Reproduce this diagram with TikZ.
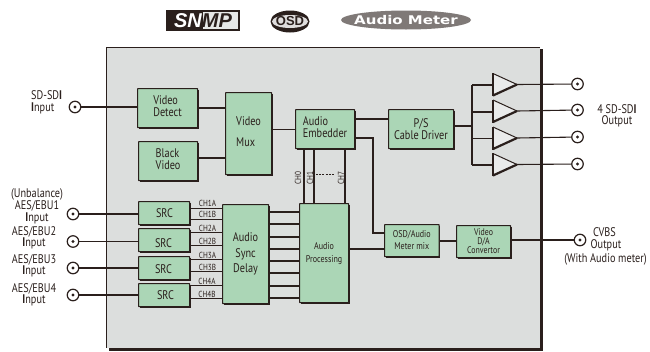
\documentclass[tikz,border=0pt]{standalone}
\usepackage{fontspec}
\setmainfont[FakeStretch=0.82]{PT Sans}
\newfontfamily\badgefont[FakeStretch=1.25]{DejaVu Sans}
\newfontfamily\snmpfont{Liberation Sans}
\definecolor{bx}{HTML}{ABD6B6}
\definecolor{pan}{HTML}{DCDEDD}
\definecolor{ink}{HTML}{2A1F1C}
\tikzset{
 px/.style={x=1pt,y=-1pt},
 wire/.style={draw=ink,line width=1.1pt},
 box/.style={draw=ink,line width=1.1pt,fill=bx,rounded corners=0.5pt,inner sep=0pt,align=center,text=ink,font=\fontsize{12.5}{12}\selectfont},
 jack/.style={circle,draw=ink,line width=1.2pt,fill=white,minimum size=11.5pt,inner sep=0pt},
 lab/.style={align=center,text=ink,inner sep=0pt,font=\fontsize{12.5}{11.5}\selectfont},
 ch/.style={text=ink,inner sep=0pt,font=\fontsize{8.8}{8.8}\selectfont},
}
\newcommand{\bxnode}[7][]{%
 \fill[ink] (#3+1.6,#4+1.6) rectangle (#5+1.6,#6+1.6);
 \node[box,#1,anchor=north west,minimum width=#5 pt-#3 pt,minimum height=#6 pt-#4 pt] (#2) at (#3,#4) {#7};
}
\newcommand{\jacknode}[3]{%
 \node[jack] (#1) at (#2,#3) {};
 \fill[ink] (#1.center) circle (1.7pt);
}
\newcommand{\ampnode}[3]{%
 \coordinate (#1in) at (#2,#3);
 \coordinate (#1out) at (#2+24,#3);
 \fill[pan!60!white] (#2,#3-11) -- (#2+24,#3) -- (#2,#3+11) -- cycle;
 \draw[ink,line width=1pt] (#2,#3-11) -- (#2+24,#3);
 \draw[ink,line width=2.2pt] (#2+24,#3) -- (#2,#3+11);
 \draw[ink,line width=1.1pt] (#2,#3+11.5) -- (#2,#3-11.5);
}
\begin{document}
\begin{tikzpicture}[px]
\useasboundingbox (0,0) rectangle (650,351);
\fill[white] (0,0) rectangle (650,351);
% panel
\fill[ink] (108.5,49) rectangle (542.8,350.8);
\fill[pan] (106.5,47) rectangle (540,348);
\draw[ink,line width=1pt] (540,47) -- (106.5,47) -- (106.5,348);
% badges
\fill[ink] (166,10) rectangle (240,31);
\fill[pan!70!white] (203,12) rectangle (238,29);
\node[inner sep=0pt,text=white] (snmp) at (203,20.5) {\snmpfont\fontsize{20}{20}\selectfont\bfseries\itshape SN\textcolor{ink}{MP}};
\fill[ink] (290,21.5) ellipse (19.5 and 11);
\fill[white!85!ink] (290,21.5) ellipse (18 and 6.5);
\node[inner sep=0pt,text=ink] (osd) at (290,21.5) {\snmpfont\fontsize{13}{13}\selectfont\bfseries OSD};
\fill[ink!60] (406,20) ellipse (65 and 9.5);
\node[inner sep=0pt,text=white] (meter) at (406,20) {\badgefont\fontsize{12}{12}\selectfont\bfseries Audio Meter};
% jacks
\jacknode{jin}{75}{107}
\jacknode{ja1}{73}{214}
\jacknode{ja2}{73}{241.5}
\jacknode{ja3}{73}{268}
\jacknode{ja4}{73}{295}
\jacknode{jo1}{577.5}{84}
\jacknode{jo2}{577.5}{110}
\jacknode{jo3}{577.5}{137}
\jacknode{jo4}{577.5}{164}
\jacknode{jcv}{580}{240}
% wires
\coordinate (j1) at (472,126);
\coordinate (a1) at (472,85);
\coordinate (a2) at (472,112);
\coordinate (a3) at (472,138.5);
\coordinate (a4) at (472,165);
\draw[wire] (jin) -- (137,107);
\draw[wire] (ja1) -- (138,214);
\draw[wire] (ja2) -- (138,241.5);
\draw[wire] (ja3) -- (138,268);
\draw[wire] (ja4) -- (138,295);
\draw[wire] (a1) -- (a4);
\draw[wire] (j1) -- (450,126);
\draw[wire] (a1) -- (493,85);
\draw[wire] (a2) -- (493,112);
\draw[wire] (a3) -- (493,138.5);
\draw[wire] (a4) -- (493,165);
\draw[wire] (198,108) -- (225,108);
\draw[wire] (198,158) -- (225,158);
\draw[wire] (272,129.5) -- (295,129.5);
\draw[wire] (354,119) -- (388,119);
\draw[wire] (354,138) -- (373,138) -- (373,233) -- (384,233);
\draw[wire] (304,148) -- (304,203);
\draw[wire] (314,148) -- (314,203);
\draw[wire] (345,148) -- (345,203);
\draw[ink,dashed,dash pattern=on 2pt off 1.2pt,line width=.8pt] (316,174) -- (335,174);
\foreach \y in {208,219,232,245,259,271,285,298}{\draw[wire,line width=1pt] (190,\y) -- (222,\y);}
\foreach \y in {212,224,237,249,261,273,286,298}{\draw[wire] (268,\y) -- (299,\y);}
\draw[wire] (348,249) -- (384,249);
\draw[wire] (438,241) -- (456,241);
\draw[wire] (510,240) -- (jcv);
% boxes
\bxnode{vdet}{137}{88}{197}{127}{\tabular{@{}l@{}}Video\\Detect\endtabular}
\bxnode{bvid}{138}{141}{197}{180}{\tabular{@{}l@{}}Black\\Video\endtabular}
\bxnode{vmux}{225}{92}{271}{174}{\tabular{@{}l@{}}Video\\[9pt]Mux\endtabular}
\bxnode{aemb}{295}{109}{354}{148}{\tabular{@{}l@{}}Audio\\Embedder\endtabular}
\bxnode{pscd}{388}{109}{453}{148}{P/S\\Cable Driver}
\bxnode{src1}{138}{201}{189}{224}{}
\bxnode{src2}{138}{228}{189}{251}{}
\bxnode{src3}{138}{256}{189}{279}{}
\bxnode{src4}{138}{283}{189}{306}{}
\node[box,draw=none,fill=none] (ts1) at (164.5,213) {SRC};
\node[box,draw=none,fill=none] (ts2) at (163.5,243) {SRC};
\node[box,draw=none,fill=none] (ts3) at (163.5,269) {SRC};
\node[box,draw=none,fill=none] (ts4) at (165.5,295) {SRC};
\bxnode{asd}{222}{204}{268}{303}{Audio\\[3.5pt]Sync\\[3.5pt]Delay}
\bxnode[font=\fontsize{9.8}{13}\selectfont]{apr}{299}{203}{348}{302}{Audio\\Processing}
\bxnode[font=\fontsize{9.8}{12}\selectfont]{osdm}{384}{224}{438.5}{256}{OSD/Audio\\Meter mix}
\bxnode[font=\fontsize{9.6}{9}\selectfont]{vda}{456}{225}{510}{257}{Video\\D/A\\Convertor}
% amps
\ampnode{am1}{493}{84.5}
\ampnode{am2}{493}{111}
\ampnode{am3}{493}{138}
\ampnode{am4}{493}{164.5}
\draw[wire] (am1out) -- (jo1);
\draw[wire] (am2out) -- (jo2);
\draw[wire] (am3out) -- (jo3);
\draw[wire] (am4out) -- (jo4);
% labels
\node[lab,align=left,anchor=west] (tin) at (31,102.5) {SD-SD\textbf{I}\\\textbf{I}nput};
\node[lab] (t1) at (37,206) {(Unbalance)\\[-0.5pt]AES/EBU1\\[0.5pt]\textbf{I}nput};
\node[lab] (t2) at (34,238) {AES/EBU2\\\textbf{I}nput};
\node[lab] (t3) at (34,266) {AES/EBU3\\\textbf{I}nput};
\node[lab] (t4) at (34,295) {AES/EBU4\\\textbf{I}nput};
\node[lab] (tout) at (617,116) {4 SD-SD\textbf{I}\\Output};
\node[lab] (tcvbs) at (604.5,232) {CVBS};
\node[lab] (tcvb2) at (606,245) {Output};
\node[lab] (tcvb3) at (605.5,259) {(With Audio meter)};
% channel labels
\node[ch] (c1) at (207.5,203) {CH1A};
\node[ch] (c2) at (207.5,214) {CH1B};
\node[ch] (c3) at (207.5,228) {CH2A};
\node[ch] (c4) at (207.5,241) {CH2B};
\node[ch] (c5) at (207.5,255) {CH3A};
\node[ch] (c6) at (207.5,267) {CH3B};
\node[ch] (c7) at (207,281) {CH4A};
\node[ch] (c8) at (207,294) {CH4B};
\node[ch,rotate=90] (v0) at (298,178) {CH0};
\node[ch,rotate=90] (v1) at (310,178) {CH1};
\node[ch,rotate=90] (v7) at (341,178) {CH7};
\end{tikzpicture}
\end{document}
